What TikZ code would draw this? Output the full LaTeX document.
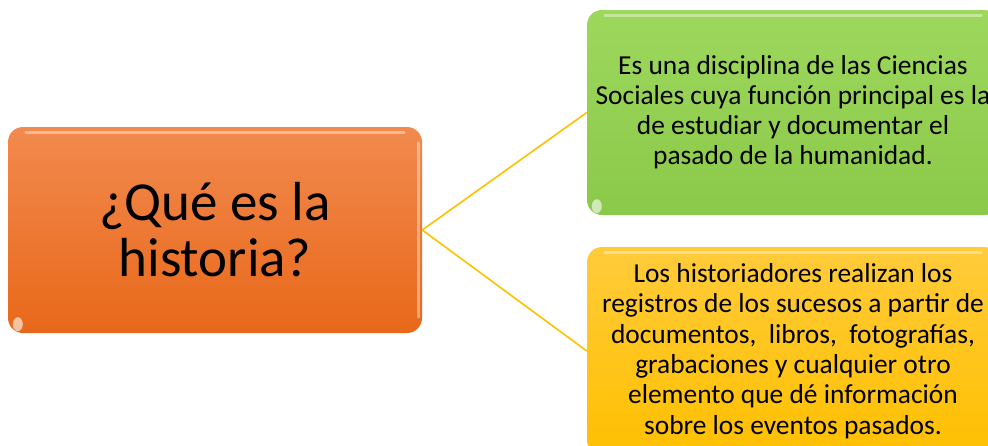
\documentclass[tikz,border=0pt]{standalone}
\usepackage{fontspec}
\setmainfont{Carlito}
\definecolor{orTop}{HTML}{F28A4E}
\definecolor{orBot}{HTML}{E8681A}
\definecolor{grTop}{HTML}{9DD85C}
\definecolor{grBot}{HTML}{8BC94A}
\definecolor{yeTop}{HTML}{FFCB3A}
\definecolor{yeBot}{HTML}{FFC000}
\definecolor{linkc}{HTML}{FFC000}
\tikzset{
  box/.style={rectangle, rounded corners=15pt, inner sep=0pt, align=center, text=black},
  link/.style={draw=linkc, line width=1.6pt},
  gloss/.style={white, opacity=0.4, line width=3pt, line cap=round},
}
\begin{document}
\begin{tikzpicture}[x=1pt,y=-1pt]
\useasboundingbox (0,0) rectangle (988,445);
\clip (0,0) rectangle (988,445);
% main box
\node[box, top color=orTop, bottom color=orBot, minimum width=414pt, minimum height=206pt,
      font=\fontsize{55}{58}\selectfont] (q) at (215,230) {¿Qué es la\\[-2pt]historia?};
% green box
\node[box, top color=grTop, bottom color=grBot, minimum width=412pt, minimum height=205pt,
      font=\fontsize{27.4}{30}\selectfont] (g) at (793,112.5)
  {Es una disciplina de las Ciencias\\Sociales cuya función principal es la\\de estudiar y documentar el\\pasado de la humanidad.};
% yellow box
\node[box, top color=yeTop, bottom color=yeBot, minimum width=412pt, minimum height=208pt,
      font=\fontsize{27.4}{30.4}\selectfont] (y) at (793,351)
  {Los historiadores realizan los\\registros de los sucesos a partir de\\documentos,\ \ libros,\ \ fotografías,\\grabaciones y cualquier otro\\elemento que dé información\\sobre los eventos pasados.};
% gloss highlights
\draw[gloss] ([xshift=18pt,yshift=-6pt]q.north west) -- ([xshift=-18pt,yshift=-6pt]q.north east);
\draw[gloss] ([xshift=-4pt,yshift=-16pt]q.north east) -- ([xshift=-4pt,yshift=16pt]q.south east);
\fill[white, opacity=0.6] ([xshift=10pt,yshift=9pt]q.south west) ellipse (5pt and 7pt);
\draw[gloss] ([xshift=18pt,yshift=-6pt]g.north west) -- ([xshift=-18pt,yshift=-6pt]g.north east);
\fill[white, opacity=0.6] ([xshift=10pt,yshift=9pt]g.south west) ellipse (5pt and 7pt);
\draw[gloss] ([xshift=18pt,yshift=-6pt]y.north west) -- ([xshift=-18pt,yshift=-6pt]y.north east);
% connectors
\draw[link] (q.east) -- (g.west);
\draw[link] (q.east) -- (y.west);
\end{tikzpicture}
\end{document}
